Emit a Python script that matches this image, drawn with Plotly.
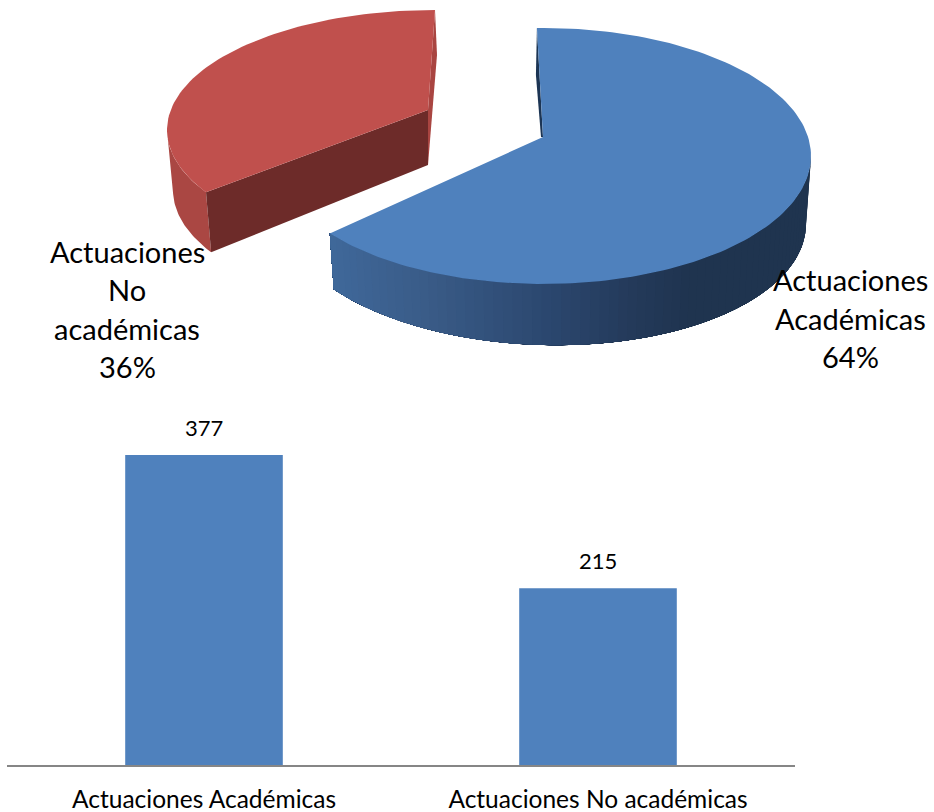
import numpy as np
import plotly.graph_objects as go

# ---- data ----
bar_categories = ["Actuaciones Académicas", "Actuaciones No académicas"]
bar_values = [377, 215]
pie_shares = [64, 36]
pie_label_lines = [["Actuaciones", "Académicas", "64%"],
                   ["Actuaciones", "No", "académicas", "36%"]]

# ---- style ----
W, H = 934, 812
FONT = "Lato"
BLUE = "#4F81BD"
RED = "#C0504D"
RED_CUT = "#6D2B29"
RED_RIM = "#AA4743"
BLUE_BACK = "#1C3554"
AXIS = "#868686"
LABEL_SIZE = 29
BAR_LABEL_SIZE = 22
TICK_SIZE = 24.5

boundary = 360 * pie_shares[0] / sum(pie_shares)
blue_start = -1.3              # perspective correction of the 3D view
blue_end = boundary + 2.3
red_start = boundary + 8.3


def rim(t, cx, cy, a, b, tilt=0.0):
    r = np.radians(t)
    x = cx + a * np.sin(r)
    y = cy - b * np.cos(r) + tilt * a * np.sin(r)
    return x, y


B_TOP = dict(cx=543, cy=156, a=268, b=128)
B_LOW = dict(cx=543, cy=217, a=263, b=128, tilt=0.025)
R_TOP = dict(cx=435, cy=130, a=268, b=120)
R_LOW = dict(cx=435, cy=190, a=262, b=120)
B_APEX = (543, 137)
R_APEX = (428, 110)
R_APEX_LOW = (428, 165)

fig = go.Figure()


def poly(xs, ys, color, lw=0.0):
    fig.add_trace(go.Scatter(x=list(xs), y=list(ys), mode="lines", fill="toself",
                             fillcolor=color, line=dict(color=color, width=lw),
                             hoverinfo="skip", showlegend=False,
                             xaxis="x", yaxis="y"))


# red slice
x1, y1 = rim(np.linspace(red_start, 270, 30), **R_TOP)
x2, y2 = rim(np.linspace(red_start, 268, 30), **R_LOW)
poly(np.r_[x1, x2[::-1]], np.r_[y1, y2[::-1]], RED_RIM)
xa, ya = rim(red_start, **R_TOP)
xb, yb = rim(red_start, **R_LOW)
poly([R_APEX[0], xa, xb, R_APEX_LOW[0]], [R_APEX[1], ya, yb, R_APEX_LOW[1]], RED_CUT)
xe, ye = rim(360, **R_TOP)
poly([xe, xe + 2, R_APEX_LOW[0], R_APEX[0]], [ye, ye + 45, R_APEX_LOW[1], R_APEX[1]], "#A94541")
t = np.linspace(red_start, 360, 80)
x1, y1 = rim(t, **R_TOP)
poly(np.r_[R_APEX[0], x1], np.r_[R_APEX[1], y1], RED)

# blue slice: back sliver, shaded side strips, top face
xs, ys = rim(blue_start, **B_TOP)
poly([xs, xs - 1, B_APEX[0] - 2, B_APEX[0]], [ys, ys + 47, B_APEX[1], B_APEX[1]], BLUE_BACK)

grad_x = [330, 430, 550, 640, 700, 820]
grad_r = [64, 58, 44, 36, 31, 31]
grad_g = [105, 92, 72, 58, 52, 52]
grad_b = [155, 136, 112, 90, 79, 79]
# painted from right to left, each band reaching to the end so no seams appear
edges = np.linspace(88, blue_end, 70)
for t0 in edges[:-1]:
    tt = np.linspace(t0, blue_end, 70)
    x1, y1 = rim(tt, **B_TOP)
    x2, y2 = rim(tt, **B_LOW)
    xm = x1[0]
    col = "rgb(%d,%d,%d)" % (np.interp(xm, grad_x, grad_r),
                             np.interp(xm, grad_x, grad_g),
                             np.interp(xm, grad_x, grad_b))
    poly(np.r_[x1, x2[::-1]], np.r_[y1, y2[::-1]], col)

t = np.linspace(blue_start, blue_end, 160)
x1, y1 = rim(t, **B_TOP)
poly(np.r_[B_APEX[0], x1], np.r_[B_APEX[1], y1], BLUE)

# bars
fig.add_trace(go.Bar(x=bar_categories, y=bar_values, marker=dict(color=BLUE, line=dict(width=0)),
                     hoverinfo="skip", showlegend=False, xaxis="x2", yaxis="y2"))

ann = []
for lines, cx, y0 in [(pie_label_lines[0], 850, 279.5), (pie_label_lines[1], 127, 251)]:
    for i, s in enumerate(lines):
        ann.append(dict(text=s, x=cx, y=y0 + i * 38.6, xref="x", yref="y", showarrow=False,
                        xanchor="center", yanchor="middle",
                        font=dict(family=FONT, size=LABEL_SIZE, color="black")))
for c, v in zip(bar_categories, bar_values):
    ann.append(dict(text=str(v), x=c, y=v, xref="x2", yref="y2", showarrow=False,
                    xanchor="center", yanchor="bottom", yshift=12,
                    font=dict(family=FONT, size=BAR_LABEL_SIZE, color="black")))

fig.update_layout(
    width=W, height=H, autosize=False,
    margin=dict(l=0, r=0, t=0, b=0),
    paper_bgcolor="white", plot_bgcolor="rgba(0,0,0,0)",
    showlegend=False, bargap=0.6, annotations=ann,
    xaxis=dict(range=[0, W], domain=[0, 1], visible=False, fixedrange=True),
    yaxis=dict(range=[H, 0], domain=[0, 1], visible=False, fixedrange=True),
    xaxis2=dict(domain=[7 / W, 795 / W], anchor="y2", type="category", range=[-0.5, 1.5],
                showline=True, linecolor=AXIS, linewidth=2, ticks="", showgrid=False,
                ticklabelstandoff=12,
                tickfont=dict(family=FONT, size=TICK_SIZE, color="black")),
    yaxis2=dict(domain=[(H - 765) / H, (H - 436) / H], anchor="x2", range=[0, 400],
                visible=False, showgrid=False),
)

fig.write_html("out.html", config={"displayModeBar": False},
               post_script="document.body.style.margin='0';")
